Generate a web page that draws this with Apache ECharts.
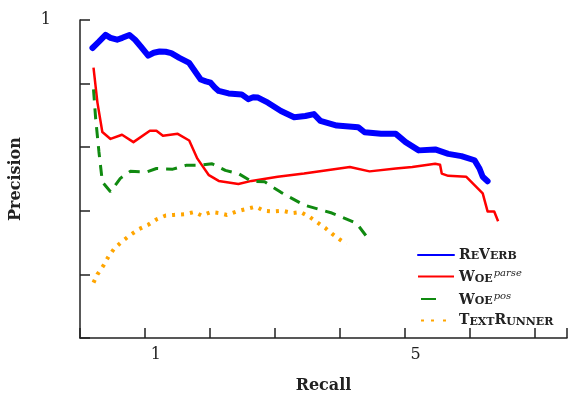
<!DOCTYPE html>
<html>
<head>
<meta charset="utf-8">
<script src="https://cdn.jsdelivr.net/npm/echarts@6/dist/echarts.min.js"></script>
<style>html,body{margin:0;padding:0;background:#fff}#c{width:570px;height:399px}</style>
</head>
<body>
<div id="c"></div>
<script>
const xTickLabels = {1: '1', 5: '5'};
const yTickLabels = {1: '1'};
const reverb = [[0.192,0.912],[0.288,0.931],[0.394,0.953],[0.470,0.944],[0.571,0.938],[0.652,0.944],[0.762,0.953],[0.848,0.938],[0.939,0.916],[1.05,0.888],[1.136,0.897],[1.227,0.901],[1.318,0.900],[1.405,0.896],[1.530,0.881],[1.682,0.865],[1.773,0.838],[1.859,0.813],[1.939,0.807],[2.011,0.803],[2.076,0.788],[2.136,0.777],[2.288,0.769],[2.489,0.766],[2.591,0.751],[2.667,0.757],[2.742,0.756],[2.894,0.740],[3.095,0.714],[3.298,0.694],[3.470,0.698],[3.602,0.704],[3.702,0.683],[3.955,0.668],[4.283,0.663],[4.383,0.647],[4.636,0.642],[4.864,0.642],[5.015,0.616],[5.217,0.590],[5.470,0.593],[5.671,0.579],[5.874,0.572],[6.076,0.559],[6.152,0.533],[6.202,0.507],[6.277,0.493]];
const woeParse = [[0.208,0.850],[0.268,0.741],[0.344,0.648],[0.470,0.626],[0.647,0.639],[0.823,0.616],[1.076,0.652],[1.177,0.652],[1.277,0.636],[1.505,0.642],[1.682,0.621],[1.808,0.564],[1.985,0.512],[2.136,0.494],[2.439,0.484],[2.641,0.494],[3.045,0.507],[3.450,0.517],[3.777,0.527],[4.156,0.538],[4.459,0.524],[4.864,0.533],[5.117,0.538],[5.470,0.548],[5.545,0.545],[5.571,0.517],[5.671,0.510],[5.950,0.507],[6.076,0.481],[6.202,0.455],[6.277,0.398],[6.379,0.398],[6.439,0.367]];
const woePos = [[0.208,0.782],[0.242,0.688],[0.292,0.585],[0.344,0.491],[0.470,0.460],[0.621,0.502],[0.773,0.524],[1.026,0.522],[1.177,0.533],[1.429,0.531],[1.632,0.543],[1.833,0.543],[2.035,0.548],[2.238,0.527],[2.439,0.517],[2.641,0.493],[2.844,0.491],[3.095,0.458],[3.450,0.418],[3.879,0.393],[4.258,0.361],[4.470,0.304]];
const textRunner = [[0.208,0.174],[0.268,0.200],[0.368,0.230],[0.444,0.258],[0.535,0.283],[0.662,0.306],[0.783,0.325],[0.914,0.343],[1.050,0.356],[1.186,0.374],[1.318,0.385],[1.444,0.387],[1.606,0.389],[1.758,0.396],[1.874,0.385],[2.020,0.396],[2.136,0.393],[2.262,0.387],[2.414,0.398],[2.565,0.406],[2.708,0.413],[2.833,0.400],[2.970,0.398],[3.121,0.400],[3.273,0.393],[3.398,0.396],[3.541,0.380],[3.652,0.364],[3.777,0.346],[3.879,0.328],[4.005,0.309],[4.106,0.296]];

const serif = '"DejaVu Serif", serif';
const chart = echarts.init(document.getElementById('c'));
const legendText = {
  ReVerb: '{c|R}{s|E}{c|V}{s|ERB}',
  WoeParse: '{c|W}{s|OE}{p|parse}',
  WoePos: '{c|W}{s|OE}{p|pos}',
  TextRunner: '{c|T}{s|EXT}{c|R}{s|UNNER}'
};
chart.setOption({
  animation: false,
  grid: {left: 79, top: 20, width: 495, height: 321},
  xAxis: {
    type: 'value', min: 0, max: 7.5, interval: 1,
    name: 'Recall', nameLocation: 'middle', nameGap: 40,
    nameTextStyle: {fontFamily: serif, fontWeight: 'bold', fontSize: 16, color: '#222'},
    axisLine: {lineStyle: {color: '#222', width: 1.5}},
    axisTick: {inside: true, length: 10, lineStyle: {color: '#222', width: 1.5}},
    axisLabel: {formatter: v => xTickLabels[v] || '', fontFamily: serif, fontSize: 16, color: '#222', margin: 9, padding: [0, 0, 0, 22]},
    splitLine: {show: false}
  },
  yAxis: {
    type: 'value', min: 0, max: 1, interval: 0.2,
    name: 'Precision', nameLocation: 'middle', nameGap: 56, nameRotate: 90,
    nameTextStyle: {fontFamily: serif, fontWeight: 'bold', fontSize: 16, color: '#222'},
    axisLine: {show: true, lineStyle: {color: '#222', width: 1.5}},
    axisTick: {show: true, inside: true, length: 10, lineStyle: {color: '#222', width: 1.5}},
    axisLabel: {formatter: v => yTickLabels[v] || '', fontFamily: serif, fontSize: 16, color: '#222', margin: 29},
    splitLine: {show: false}
  },
  legend: {
    left: 412, top: 243, orient: 'vertical', itemWidth: 36, itemHeight: 14, itemGap: 6.5,
    formatter: n => legendText[n],
    itemStyle: {opacity: 0},
    textStyle: {
      padding: [0, 0, 0, 0],
      rich: {
        c: {fontFamily: serif, fontWeight: 'bold', fontSize: 14, color: '#222', verticalAlign: 'bottom'},
        s: {fontFamily: serif, fontWeight: 'bold', fontSize: 11, color: '#222', verticalAlign: 'bottom'},
        p: {fontFamily: serif, fontStyle: 'italic', fontSize: 10, color: '#222', verticalAlign: 'top', padding: [0, 0, 6, 1]}
      }
    },
    data: [
      {name: 'ReVerb'},
      {name: 'WoeParse'},
      {name: 'WoePos', lineStyle: {type: [0, 3, 15, 100]}},
      {name: 'TextRunner', lineStyle: {type: [0, 3, 3, 7, 3, 9, 3, 100]}}
    ]
  },
  series: [
    {name: 'ReVerb', type: 'line', data: reverb, showSymbol: false, symbol: 'none', lineStyle: {color: '#0000ff', width: 6, join: 'round', cap: 'round'}, itemStyle: {color: '#0000ff'}},
    {name: 'WoeParse', type: 'line', data: woeParse, showSymbol: false, symbol: 'none', lineStyle: {color: '#ff0000', width: 2.5, join: 'round'}, itemStyle: {color: '#ff0000'}},
    {name: 'WoePos', type: 'line', data: woePos, showSymbol: false, symbol: 'none', lineStyle: {color: '#108a10', width: 3, type: [11, 8]}, itemStyle: {color: '#108a10'}},
    {name: 'TextRunner', type: 'line', data: textRunner, showSymbol: false, symbol: 'none', lineStyle: {color: '#ffa500', width: 4, type: [3, 6]}, itemStyle: {color: '#ffa500'}}
  ]
});
</script>
</body>
</html>
